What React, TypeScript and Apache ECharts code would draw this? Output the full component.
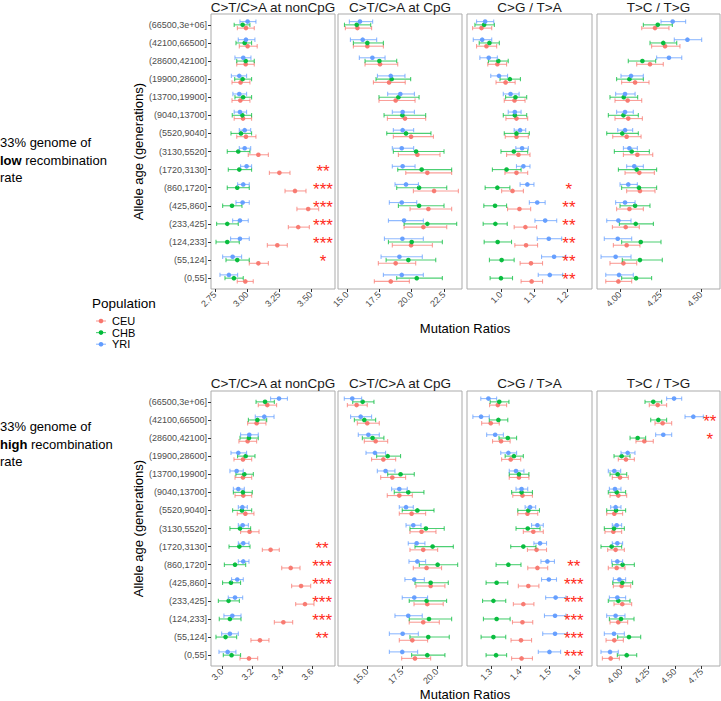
import React, { useEffect, useRef } from "react";
import * as echarts from "echarts";

const FONT = '"Liberation Sans", Arial, Helvetica, sans-serif';

const ageBins = ["(66500,3e+06]", "(42100,66500]", "(28600,42100]", "(19900,28600]", "(13700,19900]", "(9040,13700]", "(5520,9040]", "(3130,5520]", "(1720,3130]", "(860,1720]", "(425,860]", "(233,425]", "(124,233]", "(55,124]", "(0,55]"];
const populations = ["CEU", "CHB", "YRI"];
const popColors = ["#F8766D", "#00BA38", "#619CFF"];
const panelTitles = ["C>T/C>A at nonCpG", "C>T/C>A at CpG", "C>G / T>A", "T>C / T>G"];
const recombRates = ["low", "high"];

// each entry: [mean, lower, upper], age bins from top (oldest) to bottom (youngest)
// ---- low recombination ----
const lowNonCpG_CEU = [[2.992,2.925,3.057],[3.005,2.94,3.08],[2.99,2.92,3.057],[2.95,2.883,3.023],[2.948,2.883,3.023],[2.969,2.9,3.036],[2.992,2.92,3.07],[3.089,3.01,3.167],[3.253,3.175,3.336],[3.375,3.297,3.461],[3.478,3.39,3.56],[3.4,3.323,3.487],[3.237,3.159,3.315],[3.089,3.018,3.167],[2.987,2.924,3.049]];
const lowNonCpG_CHB = [[2.966,2.9,3.023],[2.982,2.914,3.036],[2.99,2.92,3.057],[2.966,2.904,3.036],[2.97,2.906,3.036],[2.964,2.885,3.036],[2.953,2.875,3.036],[2.932,2.846,3.023],[2.94,2.854,3.036],[2.924,2.846,3.018],[2.883,2.81,2.961],[2.846,2.763,2.932],[2.846,2.758,2.94],[2.924,2.836,3.018],[2.898,2.828,2.971]];
const lowNonCpG_YRI = [[3.005,2.945,3.07],[2.992,2.932,3.062],[2.971,2.906,3.031],[2.94,2.878,2.997],[2.94,2.89,2.997],[2.945,2.9,2.997],[2.982,2.94,3.029],[2.982,2.94,3.029],[2.997,2.95,3.036],[2.971,2.927,3.018],[2.966,2.914,3.018],[2.945,2.888,3.01],[2.945,2.872,3.018],[2.888,2.81,2.958],[2.859,2.789,2.927]];

const lowCpG_CEU = [[15.8,14.87,16.9],[16.57,15.49,17.81],[17.55,16.39,18.92],[18.25,17.04,19.5],[18.76,17.47,20.26],[19.48,18.12,21.08],[19.95,18.58,21.68],[20.44,18.97,22.19],[21.21,19.54,23.09],[21.73,20.13,23.61],[21.29,19.87,23.09],[20.9,19.41,22.71],[19.95,18.5,21.6],[18.76,17.42,20.31],[18.38,17.11,19.82]];
const lowCpG_CHB = [[15.75,14.8,16.83],[16.57,15.49,17.81],[17.5,16.39,18.84],[18.45,17.24,19.92],[18.97,17.47,20.57],[19.28,17.86,21.08],[19.56,18.07,21.49],[20.34,18.58,22.5],[20.77,18.92,23.09],[20.57,18.84,22.71],[20.57,18.97,22.5],[21.21,19.41,23.48],[20.0,18.2,22.37],[19.74,18.02,21.86],[20.39,18.84,22.37]];
const lowCpG_YRI = [[16.0,15.18,16.98],[16.21,15.26,17.29],[16.96,15.95,17.94],[18.38,17.35,19.48],[19.12,18.14,20.21],[19.3,18.5,20.21],[19.3,18.58,20.15],[19.23,18.5,20.15],[19.3,18.5,20.26],[19.56,18.71,20.52],[19.23,18.27,20.39],[19.41,18.2,20.9],[19.28,17.89,20.9],[19.05,17.63,20.82],[19.23,17.81,20.9]];

const lowCG_CEU = [[0.941,0.914,0.972],[0.956,0.926,0.987],[0.989,0.96,1.017],[1.014,0.985,1.043],[1.041,1.01,1.073],[1.047,1.015,1.081],[1.047,1.013,1.083],[1.053,1.017,1.088],[1.047,1.012,1.081],[1.035,1.002,1.068],[1.056,1.02,1.09],[1.074,1.04,1.108],[1.076,1.042,1.111],[1.091,1.058,1.126],[1.093,1.061,1.126]];
const lowCG_CHB = [[0.949,0.921,0.98],[0.965,0.934,0.995],[0.992,0.962,1.022],[1.027,0.997,1.059],[1.044,1.014,1.078],[1.042,1.007,1.078],[1.047,1.01,1.086],[1.039,1.0,1.081],[1.017,0.974,1.061],[0.989,0.952,1.027],[0.982,0.948,1.017],[0.983,0.946,1.019],[0.99,0.949,1.032],[1.002,0.965,1.04],[1.0,0.967,1.035]];
const lowCG_YRI = [[0.952,0.926,0.978],[0.943,0.916,0.972],[0.963,0.936,0.989],[0.994,0.969,1.02],[1.029,1.007,1.055],[1.042,1.022,1.061],[1.058,1.04,1.075],[1.064,1.045,1.083],[1.068,1.047,1.088],[1.08,1.058,1.1],[1.11,1.086,1.134],[1.134,1.103,1.169],[1.145,1.11,1.184],[1.161,1.123,1.197],[1.148,1.113,1.187]];

const lowTC_CEU = [[4.216,4.134,4.302],[4.278,4.195,4.37],[4.185,4.103,4.267],[4.093,4.01,4.179],[4.047,3.969,4.134],[4.051,3.969,4.138],[4.041,3.955,4.13],[4.107,4.021,4.202],[4.119,4.031,4.212],[4.123,4.041,4.216],[4.058,3.979,4.144],[4.035,3.953,4.119],[4.041,3.959,4.123],[4.021,3.938,4.103],[3.99,3.912,4.072]];
const lowTC_CHB = [[4.233,4.144,4.323],[4.267,4.185,4.35],[4.138,4.051,4.22],[4.058,3.979,4.144],[4.023,3.938,4.109],[4.021,3.928,4.113],[4.014,3.918,4.113],[4.072,3.965,4.181],[4.103,3.99,4.226],[4.117,4.01,4.226],[4.093,4.0,4.185],[4.097,3.996,4.206],[4.128,4.01,4.253],[4.123,4.014,4.261],[4.099,4.01,4.195]];
const lowTC_YRI = [[4.325,4.253,4.405],[4.416,4.335,4.504],[4.302,4.226,4.381],[4.068,4.006,4.144],[4.031,3.973,4.093],[4.031,3.979,4.082],[4.031,3.986,4.078],[4.058,4.021,4.107],[4.088,4.041,4.144],[4.051,4.0,4.107],[4.031,3.973,4.093],[3.99,3.918,4.068],[3.986,3.903,4.072],[3.973,3.883,4.068],[3.994,3.912,4.082]];

// ---- high recombination ----
const highNonCpG_CEU = [[3.302,3.242,3.364],[3.231,3.171,3.293],[3.171,3.113,3.231],[3.14,3.08,3.198],[3.14,3.087,3.198],[3.142,3.087,3.198],[3.156,3.102,3.213],[3.184,3.124,3.247],[3.324,3.269,3.382],[3.458,3.398,3.52],[3.527,3.464,3.591],[3.553,3.491,3.613],[3.409,3.349,3.471],[3.253,3.193,3.313],[3.18,3.12,3.238]];
const highNonCpG_CHB = [[3.287,3.227,3.349],[3.236,3.176,3.298],[3.18,3.12,3.242],[3.158,3.104,3.22],[3.149,3.093,3.209],[3.14,3.076,3.202],[3.133,3.071,3.198],[3.12,3.053,3.191],[3.116,3.047,3.187],[3.087,3.016,3.158],[3.06,3.004,3.124],[3.044,2.976,3.116],[3.053,2.982,3.127],[3.024,2.96,3.098],[3.064,3.009,3.124]];
const highNonCpG_YRI = [[3.38,3.324,3.436],[3.282,3.222,3.347],[3.182,3.124,3.242],[3.109,3.06,3.164],[3.098,3.053,3.142],[3.109,3.076,3.149],[3.136,3.109,3.169],[3.138,3.109,3.176],[3.142,3.109,3.18],[3.142,3.109,3.18],[3.102,3.064,3.142],[3.087,3.042,3.138],[3.069,3.013,3.127],[3.053,2.998,3.109],[3.038,2.98,3.093]];

const highCpG_CEU = [[14.26,13.6,15.02],[15.02,14.31,15.88],[15.62,14.81,16.48],[16.17,15.33,17.05],[16.81,15.98,17.76],[17.31,16.45,18.24],[18.19,17.31,19.19],[18.9,18.07,19.93],[19.02,18.07,20.05],[19.26,18.31,20.33],[19.55,18.5,20.57],[19.31,18.36,20.45],[19.02,18.02,20.17],[18.24,17.31,19.33],[18.43,17.48,19.55]];
const highCpG_CHB = [[14.69,13.98,15.5],[14.81,14.1,15.62],[15.4,14.67,16.21],[16.48,15.69,17.4],[17.4,16.48,18.38],[17.95,16.95,19.07],[18.6,17.52,19.79],[19.21,18.07,20.52],[19.69,18.43,21.17],[20.05,18.74,21.48],[19.55,18.43,20.81],[19.26,18.02,20.69],[19.43,18.02,21.05],[19.38,18.07,20.88],[19.31,18.19,20.57]];
const highCpG_YRI = [[13.95,13.38,14.62],[14.55,13.83,15.33],[15.1,14.38,15.88],[15.57,14.93,16.33],[16.33,15.74,17.0],[17.31,16.76,17.88],[17.79,17.31,18.31],[18.31,17.79,18.86],[18.55,17.95,19.14],[18.6,18.0,19.19],[18.38,17.71,19.1],[18.38,17.52,19.33],[17.95,17.0,18.95],[17.55,16.6,18.67],[17.52,16.6,18.62]];

const highCG_CEU = [[1.324,1.296,1.354],[1.3,1.269,1.329],[1.335,1.306,1.366],[1.368,1.337,1.402],[1.396,1.363,1.43],[1.408,1.375,1.442],[1.425,1.392,1.46],[1.445,1.411,1.479],[1.456,1.425,1.49],[1.459,1.426,1.494],[1.428,1.394,1.464],[1.411,1.377,1.447],[1.408,1.374,1.443],[1.403,1.369,1.439],[1.405,1.371,1.442]];
const highCG_CHB = [[1.329,1.298,1.362],[1.326,1.295,1.358],[1.358,1.328,1.388],[1.379,1.349,1.411],[1.396,1.363,1.43],[1.405,1.371,1.442],[1.428,1.392,1.466],[1.426,1.386,1.468],[1.411,1.368,1.454],[1.36,1.318,1.403],[1.32,1.284,1.358],[1.309,1.272,1.351],[1.32,1.275,1.366],[1.309,1.267,1.351],[1.318,1.284,1.354]];
const highCG_YRI = [[1.292,1.266,1.32],[1.267,1.239,1.295],[1.315,1.286,1.343],[1.36,1.334,1.388],[1.386,1.363,1.413],[1.405,1.386,1.426],[1.434,1.417,1.453],[1.459,1.439,1.479],[1.468,1.447,1.49],[1.493,1.471,1.517],[1.498,1.473,1.524],[1.521,1.487,1.556],[1.519,1.483,1.556],[1.519,1.477,1.561],[1.5,1.462,1.538]];

const highTC_CEU = [[4.341,4.263,4.424],[4.387,4.316,4.471],[4.217,4.139,4.3],[4.046,3.975,4.124],[3.991,3.919,4.068],[3.975,3.898,4.053],[3.938,3.867,4.015],[3.929,3.851,4.006],[3.95,3.876,4.031],[3.96,3.882,4.037],[4.006,3.929,4.09],[4.012,3.935,4.099],[3.975,3.898,4.062],[3.938,3.861,4.022],[3.904,3.827,3.985]];
const highTC_CHB = [[4.3,4.223,4.378],[4.347,4.276,4.424],[4.155,4.084,4.229],[4.006,3.935,4.084],[3.969,3.898,4.053],[3.96,3.882,4.043],[3.954,3.867,4.043],[3.935,3.845,4.031],[3.913,3.814,4.006],[4.015,3.919,4.124],[4.012,3.923,4.108],[3.975,3.882,4.084],[4.0,3.892,4.121],[4.074,3.969,4.183],[4.053,3.966,4.146]];
const highTC_YRI = [[4.493,4.424,4.564],[4.672,4.595,4.765],[4.393,4.322,4.471],[4.062,4.0,4.13],[3.938,3.882,3.997],[3.944,3.892,4.0],[3.95,3.904,4.0],[3.96,3.919,4.006],[3.966,3.919,4.015],[3.966,3.913,4.015],[3.985,3.929,4.043],[3.966,3.892,4.043],[3.95,3.867,4.037],[3.935,3.845,4.031],[3.898,3.814,3.975]];

// significance stars per age bin (top to bottom)
const lowNonCpGStars = ["", "", "", "", "", "", "", "", "**", "***", "***", "***", "***", "*", ""];
const lowCGStars = ["", "", "", "", "", "", "", "", "", "*", "**", "**", "**", "**", "**"];
const highNonCpGStars = ["", "", "", "", "", "", "", "", "**", "***", "***", "***", "***", "**", ""];
const highCGStars = ["", "", "", "", "", "", "", "", "", "**", "***", "***", "***", "***", "***"];
const highTCStars = ["", "**", "*", "", "", "", "", "", "", "", "", "", "", "", ""];

// tick labels
const ticksLowNonCpG = ["2.75", "3.00", "3.25", "3.50"];
const ticksLowCpG = ["15.0", "17.5", "20.0", "22.5"];
const ticksLowCG = ["1.0", "1.1", "1.2"];
const ticksLowTC = ["4.00", "4.25", "4.50"];
const ticksHighNonCpG = ["3.0", "3.2", "3.4", "3.6"];
const ticksHighCpG = ["15.0", "17.5", "20.0"];
const ticksHighCG = ["1.3", "1.4", "1.5", "1.6"];
const ticksHighTC = ["4.00", "4.25", "4.50", "4.75"];

type Panel = {
  row: number;
  col: number;
  series: number[][][];
  stars: string[] | null;
  starX: number;
  range: [number, number];
  ticks: string[];
};

const panels: Panel[] = [
  { row: 0, col: 0, series: [lowNonCpG_CEU, lowNonCpG_CHB, lowNonCpG_YRI], stars: lowNonCpGStars, starX: 3.594, range: [2.719, 3.6875], ticks: ticksLowNonCpG },
  { row: 0, col: 1, series: [lowCpG_CEU, lowCpG_CHB, lowCpG_YRI], stars: null, starX: 0, range: [14.3, 23.89], ticks: ticksLowCpG },
  { row: 0, col: 2, series: [lowCG_CEU, lowCG_CHB, lowCG_YRI], stars: lowCGStars, starX: 1.206, range: [0.897, 1.276], ticks: ticksLowCG },
  { row: 0, col: 3, series: [lowTC_CEU, lowTC_CHB, lowTC_YRI], stars: null, starX: 0, range: [3.858, 4.617], ticks: ticksLowTC },
  { row: 1, col: 0, series: [highNonCpG_CEU, highNonCpG_CHB, highNonCpG_YRI], stars: highNonCpGStars, starX: 3.667, range: [2.927, 3.753], ticks: ticksHighNonCpG },
  { row: 1, col: 1, series: [highCpG_CEU, highCpG_CHB, highCpG_YRI], stars: null, starX: 0, range: [12.93, 21.79], ticks: ticksHighCpG },
  { row: 1, col: 2, series: [highCG_CEU, highCG_CHB, highCG_YRI], stars: highCGStars, starX: 1.583, range: [1.219, 1.645], ticks: ticksHighCG },
  { row: 1, col: 3, series: [highTC_CEU, highTC_CHB, highTC_YRI], stars: highTCStars, starX: 4.825, range: [3.777, 4.92], ticks: ticksHighTC },
];

// layout
const colLeft = [211, 338, 467, 597];
const colWidth = [124, 124, 125, 123];
const rowTop = [14, 391];
const panelH = 275;
const dodge = [0.18, 0, -0.18];

function buildOption() {
  const binIdx = ageBins.map((_, i) => i);
  const grid = panels.map((p) => ({
    left: colLeft[p.col],
    top: rowTop[p.row],
    width: colWidth[p.col],
    height: panelH,
    show: true,
    borderColor: "#ABABAB",
    borderWidth: 1,
    backgroundColor: "#FFFFFF",
    containLabel: false,
    outerBoundsMode: "none",
  }));
  const xAxis = panels.map((p, g) => {
    const vals = p.ticks.map(Number);
    return {
      gridIndex: g,
      type: "value",
      position: "bottom",
      min: p.range[0],
      max: p.range[1],
      axisLine: { show: false, onZero: false },
      splitLine: { show: false },
      axisTick: { show: true, customValues: vals, length: 3, lineStyle: { color: "#333333", width: 1 } },
      axisLabel: {
        customValues: vals,
        rotate: 45,
        margin: 4,
        fontSize: 9,
        color: "#4D4D4D",
        fontFamily: FONT,
        formatter: (v: number) => {
          const t = p.ticks.find((s) => Math.abs(Number(s) - v) < 1e-9);
          return t ?? "";
        },
      },
    };
  });
  const yAxis = panels.map((p, g) => ({
    gridIndex: g,
    type: "value",
    position: "left",
    min: -0.6,
    max: 14.6,
    inverse: true,
    axisLine: { show: false, onZero: false },
    splitLine: { show: false },
    axisTick: { show: p.col === 0, customValues: binIdx, length: 3, lineStyle: { color: "#333333", width: 1 } },
    axisLabel: {
      show: p.col === 0,
      customValues: binIdx,
      margin: 4,
      fontSize: 9,
      color: "#4D4D4D",
      fontFamily: FONT,
      formatter: (v: number) => ageBins[Math.round(v)] ?? "",
    },
  }));

  const series: any[] = [];
  panels.forEach((p, g) => {
    p.series.forEach((rows, k) => {
      const color = popColors[k];
      series.push({
        type: "custom",
        name: populations[k],
        xAxisIndex: g,
        yAxisIndex: g,
        silent: true,
        encode: { x: [0, 1, 2], y: 3 },
        data: rows.map((r, i) => [r[0], r[1], r[2], i]),
        renderItem: (params: any, api: any) => {
          const yv = (api.value(3) as number) + dodge[k];
          const m = api.coord([api.value(0), yv]);
          const lo = api.coord([api.value(1), yv]);
          const hi = api.coord([api.value(2), yv]);
          const cap = 2.2;
          const ls = { stroke: color, lineWidth: 1.1, opacity: 0.7 };
          return {
            type: "group",
            children: [
              { type: "line", shape: { x1: lo[0], y1: lo[1], x2: hi[0], y2: hi[1] }, style: ls },
              { type: "line", shape: { x1: lo[0], y1: lo[1] - cap, x2: lo[0], y2: lo[1] + cap }, style: ls },
              { type: "line", shape: { x1: hi[0], y1: hi[1] - cap, x2: hi[0], y2: hi[1] + cap }, style: ls },
              { type: "circle", shape: { cx: m[0], cy: m[1], r: 2.3 }, style: { fill: color, opacity: 0.95 } },
            ],
          };
        },
      });
    });
    if (p.stars) {
      const items = p.stars.map((s, i) => ({ s, i })).filter((d) => d.s !== "");
      series.push({
        type: "custom",
        xAxisIndex: g,
        yAxisIndex: g,
        silent: true,
        encode: { x: 0, y: 1 },
        data: items.map((d) => [p.starX, d.i]),
        renderItem: (params: any, api: any) => {
          const c = api.coord([api.value(0), api.value(1)]);
          return {
            type: "text",
            x: c[0],
            y: c[1] + 1.5,
            style: {
              text: items[params.dataIndex].s,
              fill: "#FF2A1A",
              fontSize: 17,
              lineHeight: 11,
              fontFamily: FONT,
              align: "center",
              verticalAlign: "middle",
            },
          };
        },
      });
    }
  });

  const graphic: any[] = [];
  [0, 1].forEach((r) => {
    panelTitles.forEach((t, c) => {
      graphic.push({
        type: "text",
        x: colLeft[c] + colWidth[c] / 2,
        y: r === 0 ? 7 : 383,
        style: { text: t, fontSize: 13.5, fill: "#1A1A1A", fontFamily: FONT, align: "center", verticalAlign: "middle" },
      });
    });
    const midY = rowTop[r] + panelH / 2;
    graphic.push({
      type: "text",
      x: 138,
      y: midY,
      rotation: Math.PI / 2,
      style: { text: "Allele age (generations)", fontSize: 13, fill: "#000000", fontFamily: FONT, align: "center", verticalAlign: "middle" },
    });
    graphic.push({
      type: "text",
      x: 465,
      y: r === 0 ? 328 : 694,
      style: { text: "Mutation Ratios", fontSize: 13, fill: "#000000", fontFamily: FONT, align: "center", verticalAlign: "middle" },
    });
    graphic.push({
      type: "text",
      x: 0,
      y: r === 0 ? 133.8 : 417.8,
      style: {
        text: "{n|33% genome of}\n{b|" + recombRates[r] + "}{n| recombination}\n{n|rate}",
        align: "left",
        verticalAlign: "top",
        rich: {
          n: { fontSize: 13, fontFamily: FONT, fill: "#000000", color: "#000000", lineHeight: 17.5 },
          b: { fontSize: 13, fontFamily: FONT, fontWeight: "bold", fill: "#000000", color: "#000000", lineHeight: 17.5 },
        },
      },
    });
  });
  // legend
  graphic.push({
    type: "text",
    x: 92,
    y: 303,
    style: { text: "Population", fontSize: 13.5, fill: "#000000", fontFamily: FONT, align: "left", verticalAlign: "middle" },
  });
  populations.forEach((pop, k) => {
    const y = 321 + k * 11.6;
    graphic.push({ type: "line", shape: { x1: 96, y1: y, x2: 106, y2: y }, style: { stroke: popColors[k], lineWidth: 1.1, opacity: 0.7 } });
    graphic.push({ type: "circle", shape: { cx: 101, cy: y, r: 2.3 }, style: { fill: popColors[k] } });
    graphic.push({
      type: "text",
      x: 112,
      y,
      style: { text: pop, fontSize: 11, fill: "#000000", fontFamily: FONT, align: "left", verticalAlign: "middle" },
    });
  });

  return {
    animation: false,
    backgroundColor: "#FFFFFF",
    textStyle: { fontFamily: FONT },
    grid,
    xAxis,
    yAxis,
    series,
    graphic,
  };
}

export default function App() {
  const ref = useRef<HTMLDivElement>(null);
  useEffect(() => {
    if (!ref.current) return;
    const chart = echarts.init(ref.current, undefined, { renderer: "svg" });
    chart.setOption(buildOption() as any);
    return () => chart.dispose();
  }, []);
  return (
    <div
      ref={ref}
      style={{ position: "absolute", left: 0, top: 0, width: 721, height: 701, background: "#FFFFFF" }}
    />
  );
}
